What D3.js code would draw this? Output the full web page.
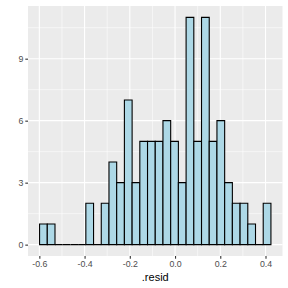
<!DOCTYPE html>
<html>
<head>
<meta charset="utf-8">
<script src="https://cdn.jsdelivr.net/npm/d3@7"></script>
<style>
  body { margin: 0; background: #fff; }
  text { font-family: "Liberation Sans", Arial, sans-serif; }
</style>
</head>
<body>
<script>
// histogram of .resid, 30 bins
var binStart = -0.599;
var binWidth = 0.0341;
var counts = [1, 1, 0, 0, 0, 0, 2, 0, 2, 4, 3, 7, 3, 5, 5, 5, 6, 5, 3, 11, 5, 11, 5, 6, 3, 2, 2, 1, 0, 2];
var xTicks = [-0.6, -0.4, -0.2, 0.0, 0.2, 0.4];
var xMinor = [-0.5, -0.3, -0.1, 0.1, 0.3];
var yTicks = [0, 3, 6, 9];
var yMinor = [1.5, 4.5, 7.5, 10.5];

var bins = counts.map(function (c, i) {
    return { x0: binStart + i * binWidth, x1: binStart + (i + 1) * binWidth, n: c };
});

var W = 288, H = 288;
var margin = { top: 6, right: 5.5, bottom: 32, left: 28 };

var lo = binStart, hi = binStart + counts.length * binWidth;
var padX = (hi - lo) * 0.05;
var yMax = d3.max(counts);

var x = d3.scaleLinear()
    .domain([lo - padX, hi + padX])
    .range([margin.left, W - margin.right]);
var y = d3.scaleLinear()
    .domain([-yMax * 0.05, yMax * 1.05])
    .range([H - margin.bottom, margin.top]);

var svg = d3.select("body").append("svg")
    .attr("width", W)
    .attr("height", H);

// panel background
svg.append("rect")
    .attr("x", margin.left)
    .attr("y", margin.top)
    .attr("width", W - margin.right - margin.left)
    .attr("height", H - margin.bottom - margin.top)
    .attr("fill", "#EBEBEB");

// grid lines
var grid = svg.append("g");
grid.selectAll(".vmin").data(xMinor).enter().append("line")
    .attr("x1", x).attr("x2", x)
    .attr("y1", margin.top).attr("y2", H - margin.bottom)
    .attr("stroke", "#fff").attr("stroke-width", 0.55);
grid.selectAll(".hmin").data(yMinor).enter().append("line")
    .attr("y1", y).attr("y2", y)
    .attr("x1", margin.left).attr("x2", W - margin.right)
    .attr("stroke", "#fff").attr("stroke-width", 0.55);
grid.selectAll(".vmaj").data(xTicks).enter().append("line")
    .attr("x1", x).attr("x2", x)
    .attr("y1", margin.top).attr("y2", H - margin.bottom)
    .attr("stroke", "#fff").attr("stroke-width", 1.1);
grid.selectAll(".hmaj").data(yTicks).enter().append("line")
    .attr("y1", y).attr("y2", y)
    .attr("x1", margin.left).attr("x2", W - margin.right)
    .attr("stroke", "#fff").attr("stroke-width", 1.1);

// bars, drawn as paths so empty bins still show their outline on the baseline
svg.selectAll(".bar").data(bins).enter().append("path")
    .attr("d", function (d) {
        var a = x(d.x0), b = x(d.x1), t = y(d.n), z = y(0);
        return "M" + a + "," + z + "V" + t + "H" + b + "V" + z + "Z";
    })
    .attr("fill", "#ADD8E6")
    .attr("stroke", "#000")
    .attr("stroke-width", 1.1);

// axes
var xAxis = d3.axisBottom(x).tickValues(xTicks).tickSize(2.7).tickPadding(2)
    .tickFormat(d3.format(".1f"));
var yAxis = d3.axisLeft(y).tickValues(yTicks).tickSize(2.7).tickPadding(2);

var gx = svg.append("g")
    .attr("transform", "translate(0," + (H - margin.bottom) + ")")
    .call(xAxis);
var gy = svg.append("g")
    .attr("transform", "translate(" + margin.left + ",0)")
    .call(yAxis);

[gx, gy].forEach(function (g) {
    g.select(".domain").remove();
    g.selectAll(".tick line").attr("stroke", "#333").attr("stroke-width", 1.1);
    g.selectAll(".tick text").attr("fill", "#4D4D4D").style("font-size", "8.8px");
});
gx.selectAll(".tick text").text(function (d) { return d3.format(".1f")(d).replace("−", "-"); });

// axis title
svg.append("text")
    .attr("x", (margin.left + W - margin.right) / 2)
    .attr("y", H - 7)
    .attr("text-anchor", "middle")
    .style("font-size", "11px")
    .attr("fill", "#000")
    .text(".resid");
</script>
</body>
</html>
